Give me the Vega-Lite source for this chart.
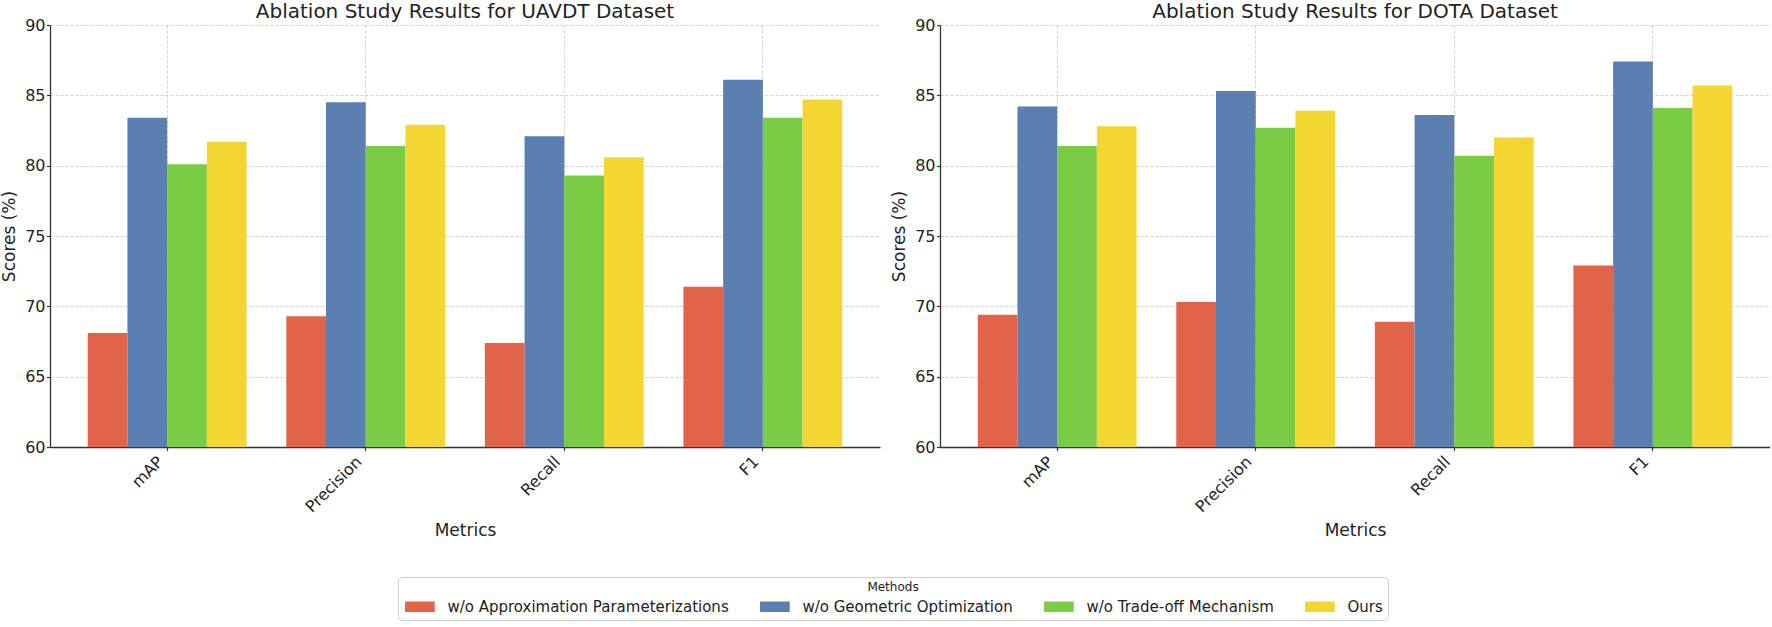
{
  "$schema": "https://vega.github.io/schema/vega-lite/v6.json",
  "background": "white",
  "padding": {"left": 0, "top": 2, "right": 0, "bottom": 0},
  "datasets": {
    "scores": [
      {"dataset": "UAVDT", "metric": "mAP", "method": "w/o Approximation Parameterizations", "score": 68.1},
      {"dataset": "UAVDT", "metric": "mAP", "method": "w/o Geometric Optimization", "score": 83.4},
      {"dataset": "UAVDT", "metric": "mAP", "method": "w/o Trade-off Mechanism", "score": 80.1},
      {"dataset": "UAVDT", "metric": "mAP", "method": "Ours", "score": 81.7},
      {"dataset": "UAVDT", "metric": "Precision", "method": "w/o Approximation Parameterizations", "score": 69.3},
      {"dataset": "UAVDT", "metric": "Precision", "method": "w/o Geometric Optimization", "score": 84.5},
      {"dataset": "UAVDT", "metric": "Precision", "method": "w/o Trade-off Mechanism", "score": 81.4},
      {"dataset": "UAVDT", "metric": "Precision", "method": "Ours", "score": 82.9},
      {"dataset": "UAVDT", "metric": "Recall", "method": "w/o Approximation Parameterizations", "score": 67.4},
      {"dataset": "UAVDT", "metric": "Recall", "method": "w/o Geometric Optimization", "score": 82.1},
      {"dataset": "UAVDT", "metric": "Recall", "method": "w/o Trade-off Mechanism", "score": 79.3},
      {"dataset": "UAVDT", "metric": "Recall", "method": "Ours", "score": 80.6},
      {"dataset": "UAVDT", "metric": "F1", "method": "w/o Approximation Parameterizations", "score": 71.4},
      {"dataset": "UAVDT", "metric": "F1", "method": "w/o Geometric Optimization", "score": 86.1},
      {"dataset": "UAVDT", "metric": "F1", "method": "w/o Trade-off Mechanism", "score": 83.4},
      {"dataset": "UAVDT", "metric": "F1", "method": "Ours", "score": 84.7},
      {"dataset": "DOTA", "metric": "mAP", "method": "w/o Approximation Parameterizations", "score": 69.4},
      {"dataset": "DOTA", "metric": "mAP", "method": "w/o Geometric Optimization", "score": 84.2},
      {"dataset": "DOTA", "metric": "mAP", "method": "w/o Trade-off Mechanism", "score": 81.4},
      {"dataset": "DOTA", "metric": "mAP", "method": "Ours", "score": 82.8},
      {"dataset": "DOTA", "metric": "Precision", "method": "w/o Approximation Parameterizations", "score": 70.3},
      {"dataset": "DOTA", "metric": "Precision", "method": "w/o Geometric Optimization", "score": 85.3},
      {"dataset": "DOTA", "metric": "Precision", "method": "w/o Trade-off Mechanism", "score": 82.7},
      {"dataset": "DOTA", "metric": "Precision", "method": "Ours", "score": 83.9},
      {"dataset": "DOTA", "metric": "Recall", "method": "w/o Approximation Parameterizations", "score": 68.9},
      {"dataset": "DOTA", "metric": "Recall", "method": "w/o Geometric Optimization", "score": 83.6},
      {"dataset": "DOTA", "metric": "Recall", "method": "w/o Trade-off Mechanism", "score": 80.7},
      {"dataset": "DOTA", "metric": "Recall", "method": "Ours", "score": 82.0},
      {"dataset": "DOTA", "metric": "F1", "method": "w/o Approximation Parameterizations", "score": 72.9},
      {"dataset": "DOTA", "metric": "F1", "method": "w/o Geometric Optimization", "score": 87.4},
      {"dataset": "DOTA", "metric": "F1", "method": "w/o Trade-off Mechanism", "score": 84.1},
      {"dataset": "DOTA", "metric": "F1", "method": "Ours", "score": 85.7}
    ]
  },
  "data": {"name": "scores"},
  "spacing": 10,
  "resolve": {"scale": {"color": "shared"}},
  "hconcat": [
    {
      "title": "Ablation Study Results for UAVDT Dataset",
      "transform": [{"filter": "datum.dataset === 'UAVDT'"}],
      "width": 830,
      "height": 422,
      "mark": {"type": "bar"},
      "encoding": {
        "x": {
          "field": "metric", "type": "nominal", "title": "Metrics",
          "sort": ["mAP", "Precision", "Recall", "F1"],
          "scale": {"paddingInner": 0.2, "paddingOuter": 0.19}
        },
        "xOffset": {
          "field": "method", "type": "nominal",
          "sort": ["w/o Approximation Parameterizations", "w/o Geometric Optimization", "w/o Trade-off Mechanism", "Ours"]
        },
        "y": {
          "field": "score", "type": "quantitative", "title": "Scores (%)",
          "scale": {"domain": [60, 90], "zero": false, "nice": false},
          "axis": {"values": [60, 65, 70, 75, 80, 85, 90]}
        },
        "y2": {"datum": 60},
        "color": {
          "field": "method", "type": "nominal",
          "sort": ["w/o Approximation Parameterizations", "w/o Geometric Optimization", "w/o Trade-off Mechanism", "Ours"],
          "scale": {
            "domain": ["w/o Approximation Parameterizations", "w/o Geometric Optimization", "w/o Trade-off Mechanism", "Ours"],
            "range": ["#e1634a", "#5b7fb0", "#7bcc45", "#f3d632"]
          },
          "legend": {
            "orient": "none", "legendX": 348, "legendY": 552,
            "direction": "horizontal", "columns": 4,
            "title": "Methods", "titleAnchor": "middle"
          }
        }
      }
    },
    {
      "title": "Ablation Study Results for DOTA Dataset",
      "transform": [{"filter": "datum.dataset === 'DOTA'"}],
      "width": 830,
      "height": 422,
      "mark": {"type": "bar"},
      "encoding": {
        "x": {
          "field": "metric", "type": "nominal", "title": "Metrics",
          "sort": ["mAP", "Precision", "Recall", "F1"],
          "scale": {"paddingInner": 0.2, "paddingOuter": 0.19}
        },
        "xOffset": {
          "field": "method", "type": "nominal",
          "sort": ["w/o Approximation Parameterizations", "w/o Geometric Optimization", "w/o Trade-off Mechanism", "Ours"]
        },
        "y": {
          "field": "score", "type": "quantitative", "title": "Scores (%)",
          "scale": {"domain": [60, 90], "zero": false, "nice": false},
          "axis": {"values": [60, 65, 70, 75, 80, 85, 90]}
        },
        "y2": {"datum": 60},
        "color": {
          "field": "method", "type": "nominal",
          "sort": ["w/o Approximation Parameterizations", "w/o Geometric Optimization", "w/o Trade-off Mechanism", "Ours"],
          "scale": {
            "domain": ["w/o Approximation Parameterizations", "w/o Geometric Optimization", "w/o Trade-off Mechanism", "Ours"],
            "range": ["#e1634a", "#5b7fb0", "#7bcc45", "#f3d632"]
          },
          "legend": {
            "orient": "none", "legendX": 348, "legendY": 552,
            "direction": "horizontal", "columns": 4,
            "title": "Methods", "titleAnchor": "middle"
          }
        }
      }
    }
  ],
  "config": {
    "font": "DejaVu Sans",
    "view": {"stroke": null},
    "title": {"fontSize": 20, "fontWeight": "normal", "color": "#222222", "offset": -5, "anchor": "middle"},
    "axis": {
      "labelFontSize": 16, "labelColor": "#222222",
      "titleFontSize": 17, "titleFontWeight": "normal", "titleColor": "#222222",
      "domainColor": "#333333", "domainWidth": 1.3,
      "tickColor": "#333333", "tickSize": 3.5, "tickWidth": 1.2,
      "grid": true, "gridColor": "#b0b0b0", "gridDash": [3, 2], "gridOpacity": 0.6, "gridWidth": 1,
      "zindex": 1
    },
    "axisX": {"labelAngle": -45, "labelAlign": "right", "labelBaseline": "bottom", "labelPadding": 14, "labelOffset": -1, "bandPosition": 0.5, "titlePadding": 8},
    "axisY": {"labelPadding": 1.5, "titlePadding": 6},
    "legend": {
      "labelFontSize": 15, "labelColor": "#222222", "labelLimit": 400, "labelOffset": 20,
      "titleFontSize": 12, "titleFontWeight": "normal", "titleColor": "#222222", "titlePadding": 5,
      "symbolType": "M-2.7,-0.95H2.7V0.95H-2.7Z", "symbolSize": 121, "symbolOffset": 9.4,
      "symbolStrokeWidth": 0, "symbolOpacity": 1,
      "columnPadding": 29, "padding": 5, "strokeColor": "#cccccc", "cornerRadius": 4, "fillColor": "white"
    }
  }
}
